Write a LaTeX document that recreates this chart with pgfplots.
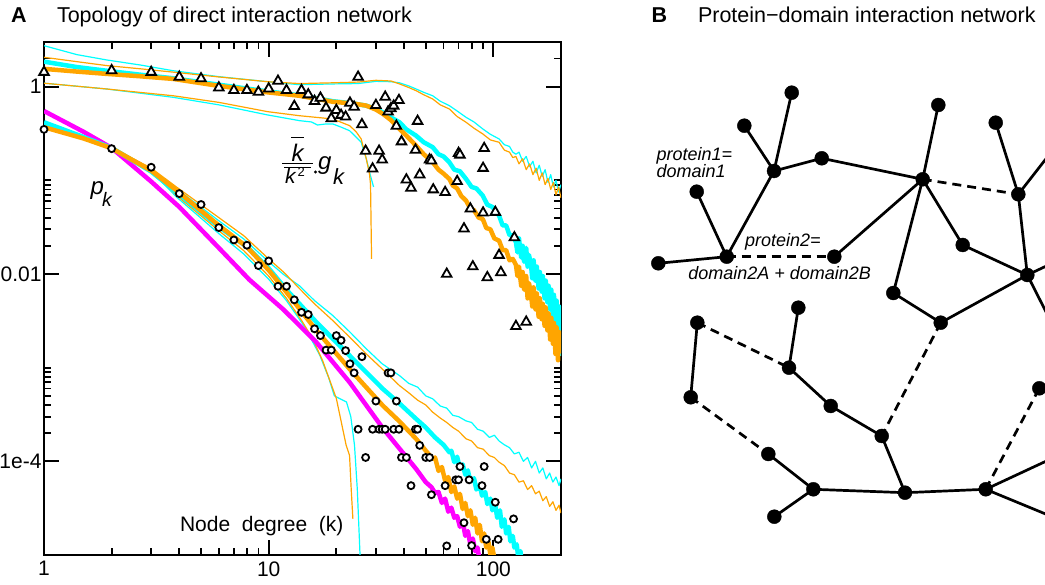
\documentclass[border=0pt]{standalone}
\usepackage{amsmath}
\usepackage{fontspec}
\setmainfont{Liberation Sans}
\usepackage{pgfplots}
\pgfplotsset{compat=1.18}
\definecolor{cy}{RGB}{0,255,255}
\definecolor{orr}{RGB}{255,165,0}
\definecolor{mg}{RGB}{255,0,255}
\pgfplotsset{
  thn/.style={line width=1.2pt, line join=round},
  thk/.style={line width=4.5pt, line join=round},
  edge/.style={black, line width=2.7pt},
  dedge/.style={black, line width=2.7pt, dash pattern=on 9pt off 6pt},
}
\begin{document}
\begin{tikzpicture}[x=1pt,y=1pt]
% ---------------- Panel A ----------------
\begin{axis}[
  at={(44pt,30pt)}, anchor=south west, scale only axis,
  width=517pt, height=513pt,
  xmode=log, ymode=log, xmin=1, xmax=200, ymin=1e-5, ymax=3,
  axis line style={line width=2pt},
  xtick={1,10,100}, xticklabels={1,10,100},
  ytick={1e-4,0.01,1}, yticklabels={1e-4,0.01,1},
  minor xtick={2,3,4,5,6,7,8,9,20,30,40,50,60,70,80,90},
  minor ytick={2,0.02,0.03,0.04,0.05,0.06,0.07,0.08,0.09,0.1,2e-4,3e-4,4e-4,5e-4,6e-4,7e-4,8e-4,9e-4,1e-3},
  tick align=inside,
  major tick length=15pt, minor tick length=7.5pt,
  tick style={black, line width=1.8pt},
  ticklabel style={font=\fontsize{21}{21}\selectfont},
  xticklabel style={yshift=-3pt},
  yticklabel style={xshift=1pt},
]
% upper group, thin
\addplot[cy, thn] coordinates {(1,2.74) (1.4,2.2) (1.9,1.93) (2.7,1.7) (3.76,1.48) (6,1.28) (9.9,1.13) (13.7,1.05) (19.3,1.07) (25,1.08) (30,1.14) (35,1.13) (38.2,1.10) (42,1.02) (45.3,0.945) (49,0.87) (53.7,0.80) (58,0.70) (63.7,0.627) (69,0.55) (75.6,0.471) (82,0.42) (89.7,0.354) (97,0.31) (106,0.277) (112,0.24) (118,0.23) (122,0.2) (126,0.19) (130,0.2) (135,0.16) (140,0.18) (145,0.14) (150,0.16) (155,0.12) (160,0.145) (165,0.11) (170,0.13) (175,0.095) (180,0.115) (185,0.085) (190,0.1) (195,0.075) (200,0.09)};
\addplot[orr, thn] coordinates {(1,2.06) (1.4,1.85) (1.9,1.68) (2.7,1.55) (3.76,1.43) (6,1.27) (9.9,1.13) (13.7,1.08) (19.3,1.10) (25,1.12) (30,1.17) (35,1.15) (38.2,1.07) (42,0.98) (45.3,0.906) (49,0.82) (53.7,0.739) (58,0.64) (63.7,0.578) (69,0.48) (75.6,0.417) (82,0.36) (89.7,0.313) (97,0.27) (106,0.255) (112,0.21) (118,0.2) (122,0.175) (126,0.18) (130,0.15) (135,0.17) (140,0.13) (145,0.15) (150,0.115) (155,0.135) (160,0.1) (165,0.12) (170,0.09) (175,0.105) (180,0.08) (185,0.095) (190,0.07) (195,0.085) (200,0.065)};
\addplot[cy, thn] coordinates {(1,1.09) (1.9,0.945) (3.76,0.77) (6,0.64) (9.9,0.499) (13.7,0.434) (15.5,0.42) (16.5,0.39) (18,0.40) (19.3,0.40) (21,0.37) (22.9,0.339) (24.5,0.29) (25.8,0.255) (27.2,0.17) (28.3,0.115) (29.3,0.085)};
\addplot[orr, thn] coordinates {(1,1.09) (1.9,0.945) (3.76,0.80) (6,0.68) (9.9,0.541) (13.7,0.49) (19.3,0.452) (22.9,0.384) (24.5,0.33) (25.8,0.277) (27.2,0.169) (28.1,0.117) (28.4,0.09) (28.7,0.0145)};
% upper group, thick
\addplot[cy, thk] coordinates {(1,1.85) (1.4,1.62) (1.9,1.48) (2.7,1.34) (3.76,1.23) (6,1.05) (9.9,0.89) (13.7,0.81) (19.3,0.70) (24,0.66) (27.2,0.627) (30,0.58) (32.3,0.53) (35,0.47) (38.2,0.417) (41,0.35) (45.3,0.30) (49,0.255) (53.7,0.226) (57,0.19) (60,0.18) (63.7,0.156) (67,0.13) (71,0.125) (75.6,0.1035) (80,0.085) (84,0.082) (89.7,0.0687) (94,0.055) (99,0.052) (106,0.042) (110,0.033) (114,0.033) (118,0.026) (122,0.026) (126,0.0218) (128,0.017) (130,0.024) (133,0.015) (135,0.02) (137,0.0135) (140,0.019) (142,0.012) (144,0.016) (147,0.0125) (149,0.009) (151,0.014) (154,0.0085) (156,0.012) (159,0.007) (161,0.0105) (164,0.0065) (166,0.0095) (169,0.0055) (171,0.0085) (174,0.005) (176,0.0075) (179,0.0042) (181,0.0068) (184,0.0036) (186,0.006) (189,0.003) (191,0.0052) (194,0.0022) (196,0.0045) (198,0.0014) (200,0.0035)};
\addplot[orr, thk] coordinates {(1,1.55) (1.4,1.45) (1.9,1.37) (2.7,1.29) (3.76,1.21) (6,1.02) (9.9,0.87) (13.7,0.80) (19.3,0.69) (24,0.66) (27.2,0.627) (30,0.57) (32.3,0.511) (35,0.44) (38.2,0.354) (41,0.30) (45.3,0.234) (49,0.19) (53.7,0.156) (57,0.13) (60,0.118) (63.7,0.1035) (66,0.088) (69,0.082) (72,0.068) (75.6,0.0607) (79,0.05) (82,0.048) (86,0.04) (89.7,0.0387) (93,0.031) (97,0.03) (101,0.024) (106,0.0227) (110,0.018) (114,0.018) (118,0.014) (122,0.0145) (126,0.0125) (128,0.0095) (130,0.012) (133,0.0075) (135,0.0105) (137,0.0068) (140,0.0095) (142,0.0055) (144,0.008) (147,0.0062) (149,0.0045) (151,0.0072) (154,0.0042) (156,0.0062) (159,0.0035) (161,0.0055) (164,0.0033) (166,0.0048) (169,0.0028) (171,0.0044) (174,0.0025) (176,0.0038) (179,0.002) (181,0.0034) (184,0.0018) (186,0.003) (189,0.0014) (191,0.0027) (194,0.0012) (196,0.0024) (198,0.0015) (200,0.0022)};
% lower group, thin
\addplot[cy, thn] coordinates {(1,0.40) (1.5,0.29) (2,0.222) (3,0.132) (3.9,0.081) (6,0.037) (7.74,0.0237) (10,0.0135) (11.7,0.0098) (13.7,0.0075) (16,0.0052) (19.3,0.0036) (23,0.0024) (27.2,0.00159) (32,0.0011) (38.2,0.000824) (42,0.00068) (46,0.00062) (50,0.0005) (53.7,0.000465) (58,0.00039) (62,0.00037) (66,0.00031) (70,0.0003) (75.6,0.00027) (80,0.00026) (85,0.00022) (90,0.00021) (96,0.00018) (101,0.00019) (106,0.000165) (112,0.00015) (118,0.00014) (124,0.00012) (130,0.000125) (136,0.0001) (142,0.00011) (148,0.000085) (154,0.0001) (160,0.000075) (166,0.000085) (172,0.000065) (178,0.000075) (184,0.00006) (190,0.000068) (196,0.000055) (200,0.000065)};
\addplot[orr, thn] coordinates {(1,0.38) (1.5,0.285) (2,0.225) (3,0.135) (3.9,0.0844) (6,0.040) (7.74,0.0257) (10,0.0145) (11.7,0.0104) (13.7,0.0070) (16,0.0048) (19.3,0.00318) (23,0.0021) (27.2,0.0014) (32,0.00097) (38.2,0.000644) (42,0.00054) (46,0.00045) (50,0.0004) (53.7,0.000335) (58,0.00029) (62,0.00026) (66,0.00023) (70,0.00021) (75.6,0.000174) (80,0.000165) (85,0.00014) (90,0.000135) (96,0.000115) (101,0.00011) (106,0.000098) (112,0.00009) (118,0.000075) (124,0.000072) (130,0.00006) (136,0.000062) (142,0.00005) (148,0.000055) (154,0.000045) (160,0.000048) (166,0.000038) (172,0.000042) (178,0.000033) (184,0.000037) (190,0.00003) (196,0.000034) (200,0.000028)};
\addplot[cy, thn] coordinates {(1,0.40) (2,0.22) (3,0.125) (3.9,0.066) (6,0.027) (7.74,0.0164) (10,0.0088) (12,0.0052) (14.5,0.0027) (16.9,0.00135) (18.5,0.00078) (19.6,0.0005) (21,0.00046) (22.2,0.00043) (23.2,0.0003) (24.1,0.000148) (24.8,0.00005) (25.6,0.000008)};
\addplot[orr, thn] coordinates {(1,0.37) (2,0.22) (3,0.128) (3.9,0.0687) (6,0.029) (7.74,0.0178) (10,0.0095) (12,0.0055) (14,0.0032) (15.6,0.0021) (17.4,0.00118) (20,0.00047) (22.1,0.00015) (22.9,0.000116) (23.3,0.00005) (23.7,0.0000243)};
% lower group, thick
\addplot[mg, thk] coordinates {(1,0.55) (1.5,0.33) (2,0.222) (3,0.097) (4,0.052) (6,0.019) (8.2,0.0087) (11.6,0.0042) (16.3,0.00187) (22.9,0.0007) (32.2,0.000226) (45.3,0.000083) (50,0.00006) (53,0.000053) (55,0.000046) (57,0.000047) (59,0.000036) (61,0.00004) (63,0.000029) (65,0.000032) (67,0.000025) (69,0.000026) (71,0.00002) (73,0.000023) (75,0.000016) (77,0.000018) (79,0.000013) (81,0.000015) (83,0.000011) (85,0.000012) (87,0.0000085) (89,0.000009)};
\addplot[cy, thk] coordinates {(1,0.417) (1.5,0.29) (2,0.222) (3,0.124) (4,0.071) (6,0.032) (8,0.0195) (10,0.0115) (12,0.0068) (16.3,0.00306) (22.9,0.00135) (32.2,0.000594) (38,0.00042) (45.3,0.000284) (50,0.00023) (55,0.00018) (60,0.00015) (63.7,0.000125) (65,0.00013) (67,0.000098) (69,0.000112) (71,0.000083) (73,0.000093) (75,0.000072) (77,0.00008) (79,0.000061) (82,0.000066) (84,0.00005) (87,0.000056) (89,0.000043) (92,0.000047) (94,0.000035) (97,0.00004) (99,0.00003) (102,0.000034) (104,0.000025) (107,0.00003) (109,0.00002) (112,0.000024) (114,0.000017) (117,0.00002) (119,0.000014) (122,0.000016) (124,0.000012) (127,0.000013) (129,0.0000095) (132,0.000011) (134,0.000008)};
\addplot[orr, thk] coordinates {(1,0.369) (1.5,0.28) (2,0.22) (3,0.127) (4,0.074) (6,0.033) (8,0.0195) (10,0.011) (12,0.0064) (16.3,0.0025) (22.9,0.00097) (32.2,0.000394) (38,0.00027) (45.3,0.000174) (50,0.00013) (53.7,0.000106) (55,0.00011) (57,0.000079) (59,0.000087) (61,0.000062) (63,0.000068) (65,0.000047) (67,0.000054) (69,0.00004) (71,0.000045) (73,0.000031) (75,0.000036) (77,0.000026) (79,0.00003) (81,0.000021) (83,0.000025) (85,0.000017) (87,0.000021) (89,0.000014) (91,0.000017) (93,0.000012) (95,0.000014) (97,0.00001) (99,0.000012) (102,0.000008)};
% data: triangles (g_k)
\addplot[only marks, mark=triangle*, mark size=5.5pt, mark options={draw=black, fill=white, line width=1.8pt}] coordinates {
(1,1.43) (2,1.49) (3,1.43) (4,1.27) (5,1.22) (6,0.976) (7,0.915) (8,0.915) (9,0.878) (10,0.952)
(11,1.15) (12,0.915) (13,0.619) (14,0.915) (15,0.823) (16,0.70) (17,0.758) (18,0.594) (19,0.458) (20,0.561)
(21,0.497) (22,0.477) (23,0.671) (24,0.608) (25,1.27) (26,0.395) (27,0.206) (29,0.133) (30,0.634) (31,0.206)
(32,0.166) (33,0.777) (34,0.539) (35,0.585) (36,0.624) (37,0.38) (38,0.716) (39,0.259) (41,0.1016) (43,0.083)
(45,0.211) (46,0.429) (47,0.115) (52,0.166) (53,0.162) (54,0.0796) (61,0.0746) (62,0.01) (69,0.0976) (70,0.195)
(71,0.187) (74,0.0305) (79,0.0497) (81,0.012) (90,0.045) (91,0.22) (90,0.135) (94,0.0092) (102,0.0458) (106,0.0159)
(108,0.0104) (124,0.0245) (126,0.00277) (140,0.00308)};
% data: circles (p_k)
\addplot[only marks, mark=*, mark size=3.5pt, mark options={draw=black, fill=white, line width=1.8pt}] coordinates {
(1,0.35) (2,0.218) (3,0.138) (4,0.0722) (5,0.0552) (6,0.0313) (7,0.0231) (8,0.0203) (9,0.0123) (10,0.0138)
(11,0.0074) (12,0.0074) (13,0.0053) (14,0.0039) (15,0.0037) (16,0.0026) (17,0.0022) (18,0.00154) (19,0.00154) (20,0.0022)
(21,0.00196) (22,0.00152) (23,0.0011) (24,0.00088) (25,0.00022) (26,0.00131) (27,0.00011) (29,0.00022) (30,0.00044) (31,0.00022)
(32,0.00022) (33,0.00022) (34,0.00088) (35,0.00088) (36,0.00022) (37,0.00044) (38,0.00022) (39,0.00011) (41,0.00011) (43,0.000055)
(45,0.00022) (46,0.00022) (47,0.000148) (50,0.00011) (52,0.00011) (53,0.000044) (61,0.000055) (62,0.0000125) (68,0.0000635) (70,0.0000635)
(71,0.000088) (74,0.0000221) (78,0.0000635) (80,0.0000126) (89,0.000055) (91,0.000088) (93,0.0000147) (102,0.0000366) (105,0.0000147) (123,0.0000243)};
\end{axis}
% ---------------- Panel B ----------------
\begin{axis}[
  at={(0pt,0pt)}, anchor=south west, scale only axis,
  width=1045pt, height=585pt, xmin=0, xmax=1045, ymin=0, ymax=585,
  hide axis,
]
\addplot[edge] coordinates {(791.7,492.3) (774,414)};
\addplot[edge] coordinates {(744.3,459.3) (774,414)};
\addplot[edge] coordinates {(774,414) (821.7,426.7)};
\addplot[edge] coordinates {(774,414) (726.7,328.3)};
\addplot[edge] coordinates {(821.7,426.7) (922.7,405.7)};
\addplot[edge] coordinates {(938.3,480) (922.7,405.7)};
\addplot[edge] coordinates {(922.7,405.7) (834.3,328.3)};
\addplot[edge] coordinates {(922.7,405.7) (962.7,340)};
\addplot[edge] coordinates {(922.7,405.7) (893.3,292)};
\addplot[edge] coordinates {(995.7,462.3) (1018.3,390.7)};
\addplot[edge] coordinates {(1018.3,390.7) (1027.3,310)};
\addplot[edge] coordinates {(1018.3,390.7) (1060,444.2)};
\addplot[edge] coordinates {(696.7,393.3) (726.7,328.3)};
\addplot[edge] coordinates {(658.3,321.7) (726.7,328.3)};
\addplot[edge] coordinates {(962.7,340) (1027.3,310)};
\addplot[edge] coordinates {(1027.3,310) (1060,325.4)};
\addplot[edge] coordinates {(1027.3,310) (1060,245.5)};
\addplot[edge] coordinates {(1027.3,310) (940.7,262.3)};
\addplot[edge] coordinates {(893.3,292) (940.7,262.3)};
\addplot[edge] coordinates {(697.3,262.3) (690.7,187.7)};
\addplot[edge] coordinates {(798.3,277.3) (789,217.3)};
\addplot[edge] coordinates {(789,217.3) (830.7,179)};
\addplot[edge] coordinates {(830.7,179) (881.7,149)};
\addplot[edge] coordinates {(881.7,149) (905,92.3)};
\addplot[edge] coordinates {(768.3,131) (813.3,95.7)};
\addplot[edge] coordinates {(813.3,95.7) (905,92.3)};
\addplot[edge] coordinates {(813.3,95.7) (774.3,68.3)};
\addplot[edge] coordinates {(905,92.3) (985.7,95.7)};
\addplot[edge] coordinates {(985.7,95.7) (1060,130.3)};
\addplot[edge] coordinates {(985.7,95.7) (1048,70)};
\addplot[dedge] coordinates {(726.7,328.3) (834.3,328.3)};
\addplot[dedge] coordinates {(922.7,405.7) (1018.3,390.7)};
\addplot[dedge] coordinates {(697.3,262.3) (789,217.3)};
\addplot[dedge] coordinates {(690.7,187.7) (768.3,131)};
\addplot[dedge] coordinates {(940.7,262.3) (881.7,149)};
\addplot[dedge] coordinates {(985.7,95.7) (1039.3,196.7)};
\addplot[only marks, mark=*, mark size=7pt, black] coordinates {
(791.7,492.3) (744.3,459.3) (774,414) (821.7,426.7) (938.3,480) (995.7,462.3) (922.7,405.7) (1018.3,390.7)
(696.7,393.3) (726.7,328.3) (658.3,321.7) (834.3,328.3) (962.7,340) (1027.3,310) (893.3,292) (940.7,262.3)
(697.3,262.3) (798.3,277.3) (789,217.3) (690.7,187.7) (830.7,179) (881.7,149) (768.3,131) (813.3,95.7)
(905,92.3) (985.7,95.7) (774.3,68.3) (1039.3,196.7) (1048,70)};
\end{axis}
% ---------------- Texts ----------------
\begin{scope}[every node/.style={inner sep=0pt, outer sep=0pt}]
\node[anchor=base west, font=\fontsize{21.5}{21.5}\selectfont\bfseries] at (11,562) {A};
\node[anchor=base west, font=\fontsize{21.5}{21.5}\selectfont] at (57,562) {Topology of direct interaction network};
\node[anchor=base west, font=\fontsize{21.5}{21.5}\selectfont\bfseries] at (651.7,562) {B};
\node[anchor=base west, font=\fontsize{21.5}{21.5}\selectfont] at (698,562) {Protein−domain interaction network};
\node[anchor=base west, font=\fontsize{21}{21}\selectfont] at (180,53.3) {Node\ \ degree\ \ (k)};
\node[anchor=base west, font=\fontsize{24}{24}\selectfont\itshape] at (90.7,390.8) {p};
\node[anchor=base west, font=\fontsize{19.5}{19.5}\selectfont\itshape] at (102,378) {k};
\node[anchor=base, font=\fontsize{24}{24}\selectfont\itshape] at (297.5,423) {k};
\draw[line width=1.4pt] (291,447.3) -- (304,447.3);
\draw[line width=1.4pt] (282,421.5) -- (313,421.5);
\draw[line width=1.4pt] (284,417.3) -- (311,417.3);
\node[anchor=base west, font=\fontsize{21}{21}\selectfont\itshape] at (285,401) {k};
\node[anchor=base west, font=\fontsize{13}{13}\selectfont] at (297.5,408) {2};
\fill (315.5,413) circle (1.6);
\node[anchor=base west, font=\fontsize{24}{24}\selectfont\itshape] at (318,415.5) {g};
\node[anchor=base west, font=\fontsize{22}{22}\selectfont\itshape] at (333,400) {k};
\node[anchor=base west, font=\fontsize{18}{18}\selectfont\itshape] at (656.7,424) {protein1=};
\node[anchor=base west, font=\fontsize{18}{18}\selectfont\itshape] at (656.7,407.5) {domain1};
\node[anchor=base west, font=\fontsize{18}{18}\selectfont\itshape] at (745,338.3) {protein2=};
\node[anchor=base west, font=\fontsize{18}{18}\selectfont\itshape] at (688.3,305) {domain2A + domain2B};
\end{scope}
\pgfresetboundingbox
\path[use as bounding box] (0,0) rectangle (1045,585);
\end{tikzpicture}
\end{document}
